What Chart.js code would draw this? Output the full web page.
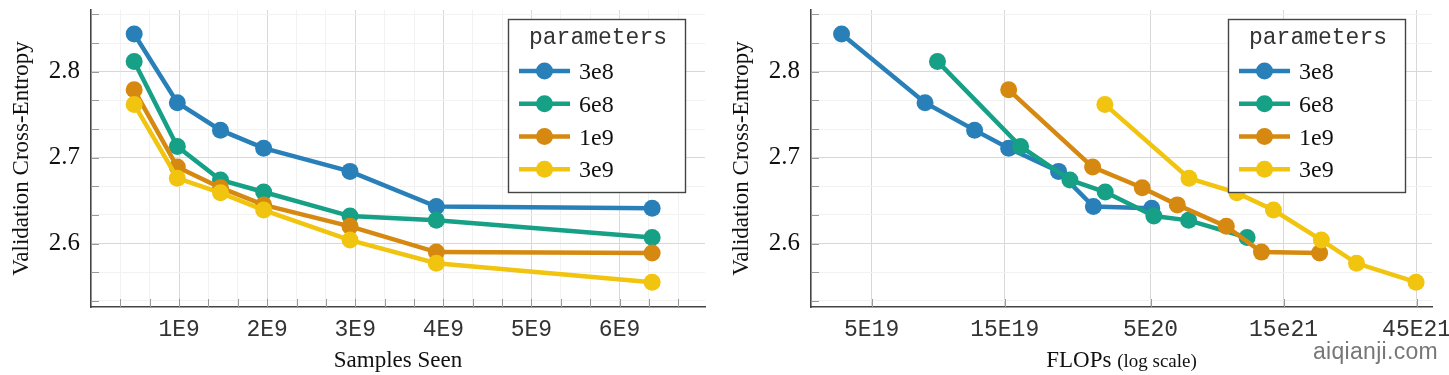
<!DOCTYPE html>
<html><head><meta charset="utf-8">
<script src="https://cdn.jsdelivr.net/npm/chart.js@4/dist/chart.umd.min.js"></script>
<style>
html,body{margin:0;padding:0;background:#fff;}
#wrap{position:relative;width:1449px;height:375px;overflow:hidden;background:#fff;}
#c1{position:absolute;left:0;top:0;}
#c2{position:absolute;left:720px;top:0;}
#wm{position:absolute;left:1313px;top:338px;font:23px 'Liberation Sans',sans-serif;color:#777;white-space:nowrap;letter-spacing:0.3px;}
</style></head>
<body><div id="wrap">
<canvas id="c1" width="720" height="375"></canvas>
<canvas id="c2" width="729" height="375"></canvas>
<div id="wm">aiqianji.com</div>
</div>
<script>
// ---------- data ----------
const seriesLabels = ['3e8', '6e8', '1e9', '3e9'];
const seriesColors = ['#2980b9', '#16a085', '#d68910', '#f1c40f'];

const samplesSeen = [0.49e9, 0.98e9, 1.47e9, 1.96e9, 2.94e9, 3.92e9, 6.37e9];

const loss3e8 = [2.844, 2.764, 2.732, 2.711, 2.684, 2.643, 2.641];
const loss6e8 = [2.812, 2.713, 2.674, 2.660, 2.632, 2.627, 2.607];
const loss1e9 = [2.779, 2.689, 2.665, 2.645, 2.620, 2.590, 2.589];
const loss3e9 = [2.762, 2.676, 2.659, 2.639, 2.604, 2.577, 2.555];

const flops3e8 = [3.90e19, 7.77e19, 1.17e20, 1.55e20, 2.34e20, 3.12e20, 5.05e20];
const flops6e8 = [8.61e19, 1.71e20, 2.57e20, 3.44e20, 5.14e20, 6.85e20, 1.11e21];
const flops1e9 = [1.55e20, 3.10e20, 4.67e20, 6.24e20, 9.35e20, 1.25e21, 2.02e21];
const flops3e9 = [3.43e20, 6.87e20, 1.02e21, 1.38e21, 2.05e21, 2.74e21, 4.48e21];

const yTickValues = [2.6, 2.7, 2.8];
const yTickLabels = ['2.6', '2.7', '2.8'];
const samplesTickValues = [1e9, 2e9, 3e9, 4e9, 5e9, 6e9];
const samplesTickLabels = ['1E9', '2E9', '3E9', '4E9', '5E9', '6E9'];
const flopsTickValues = [5e19, 1.5e20, 5e20, 1.5e21, 4.5e21];
const flopsTickLabels = ['5E19', '15E19', '5E20', '15e21', '45E21'];

const lossSeries = [loss3e8, loss6e8, loss1e9, loss3e9];
const flopsSeries = [flops3e8, flops6e8, flops1e9, flops3e9];

// ---------- helpers ----------
function findIdx(v, vals) {
  for (let i = 0; i < vals.length; i++) {
    if (Math.abs(vals[i] - v) <= 1e-6 * Math.abs(vals[i])) return i;
  }
  return -1;
}
function labelFor(v, vals, labs) { const i = findIdx(v, vals); return i >= 0 ? labs[i] : ''; }

const SERIF = "'Liberation Serif', serif";
const MONO = "'Liberation Mono', monospace";

function buildDatasets(xArrays) {
  return seriesLabels.map((lab, i) => ({
    label: lab,
    data: lossSeries[i].map((y, j) => ({ x: Array.isArray(xArrays[0]) ? xArrays[i][j] : xArrays[j], y: y })),
    borderColor: seriesColors[i],
    backgroundColor: seriesColors[i],
    borderWidth: 4.5,
    pointRadius: 8.5,
    pointHoverRadius: 8.5,
    pointBorderWidth: 0,
    pointBackgroundColor: seriesColors[i],
    tension: 0,
    order: seriesLabels.length - i,
    clip: false
  }));
}

function yScale() {
  return {
    type: 'linear', min: 2.5261, max: 2.8719,
    afterBuildTicks: s => {
      const t = [];
      for (let k = -3; k <= 9; k++) {
        const v = 2.6 + k * 0.1 / 3;
        if (v >= s.min && v <= s.max) t.push({ value: v });
      }
      s.ticks = t;
    },
    ticks: {
      autoSkip: false, padding: 11, color: '#111',
      font: { family: SERIF, size: 25 },
      callback: v => labelFor(v, yTickValues, yTickLabels)
    },
    grid: {
      drawTicks: false, lineWidth: 1,
      color: c => (c.tick && findIdx(c.tick.value, yTickValues) >= 0) ? '#d8d8d8' : '#f2f2f2'
    },
    border: { display: true, color: '#444', width: 1.6 },
    afterFit: s => { s.width = 91; s.paddingTop = 0; s.paddingBottom = 0; }
  };
}

const innerTicks = {
  id: 'innerTicks',
  beforeDatasetsDraw(chart) {
    const { ctx, chartArea: a } = chart;
    const xs = chart.scales.x, ys = chart.scales.y;
    ctx.save();
    ctx.strokeStyle = '#999';
    ctx.lineWidth = 1;
    ys.ticks.forEach(t => {
      const p = Math.round(ys.getPixelForValue(t.value)) + 0.5;
      ctx.beginPath(); ctx.moveTo(a.left, p); ctx.lineTo(a.left + 8, p); ctx.stroke();
    });
    xs.ticks.forEach(t => {
      const p = Math.round(xs.getPixelForValue(t.value)) + 0.5;
      ctx.beginPath(); ctx.moveTo(p, a.bottom); ctx.lineTo(p, a.bottom - 8); ctx.stroke();
    });
    ctx.restore();
  }
};

const legendBox = {
  id: 'legendBox',
  afterDatasetsDraw(chart) {
    const ctx = chart.ctx;
    const bx = 508.5, by = 19.5, bw = 177, bh = 173;
    ctx.save();
    ctx.fillStyle = '#fff';
    ctx.fillRect(bx, by, bw, bh);
    ctx.strokeStyle = '#444';
    ctx.lineWidth = 1.4;
    ctx.strokeRect(bx, by, bw, bh);
    ctx.fillStyle = '#333';
    ctx.font = '23px ' + MONO;
    ctx.textAlign = 'center';
    ctx.textBaseline = 'alphabetic';
    ctx.fillText('parameters', bx + bw / 2 + 1, 43.5);
    chart.data.datasets.forEach((ds, i) => {
      const cy = 71 + i * 32.75;
      ctx.strokeStyle = ds.borderColor;
      ctx.lineWidth = 4.5;
      ctx.beginPath(); ctx.moveTo(519, cy); ctx.lineTo(570, cy); ctx.stroke();
      ctx.fillStyle = ds.borderColor;
      ctx.beginPath(); ctx.arc(544.5, cy, 8.5, 0, Math.PI * 2); ctx.fill();
      ctx.fillStyle = '#111';
      ctx.font = '24px ' + SERIF;
      ctx.textAlign = 'left';
      ctx.fillText(ds.label, 579, cy + 8);
    });
    ctx.restore();
  }
};

const axisTitles = {
  id: 'axisTitles',
  afterDraw(chart, args, opts) {
    const { ctx, chartArea: a } = chart;
    ctx.save();
    ctx.fillStyle = '#111';
    ctx.textBaseline = 'alphabetic';
    ctx.save();
    ctx.translate(28, (a.top + a.bottom) / 2);
    ctx.rotate(-Math.PI / 2);
    ctx.textAlign = 'center';
    ctx.font = '23px ' + SERIF;
    ctx.fillText('Validation Cross-Entropy', 0, 0);
    ctx.restore();
    const parts = opts.parts;
    let total = 0;
    parts.forEach(p => { ctx.font = p.size + 'px ' + SERIF; p.w = ctx.measureText(p.text).width; total += p.w; });
    let x = (a.left + a.right) / 2 - total / 2;
    ctx.textAlign = 'left';
    parts.forEach(p => { ctx.font = p.size + 'px ' + SERIF; ctx.fillText(p.text, x, 367); x += p.w; });
    ctx.restore();
  }
};

function commonOptions(xScale, titleParts, rightPad) {
  return {
    responsive: false,
    animation: false,
    devicePixelRatio: 1,
    layout: { padding: { top: 10, right: rightPad, bottom: 0, left: 0 } },
    plugins: {
      legend: { display: false },
      tooltip: { enabled: false },
      axisTitles: { parts: titleParts }
    },
    scales: { x: xScale, y: yScale() }
  };
}

// ---------- left chart ----------
const leftX = {
  type: 'linear', min: 0, max: 6.97e9,
  afterBuildTicks: s => {
    const t = [];
    for (let k = 1; k <= 21; k++) {
      const v = k * 1e9 / 3;
      if (v <= s.max) t.push({ value: v });
    }
    s.ticks = t;
  },
  ticks: {
    autoSkip: false, maxRotation: 0, padding: 9, color: '#333',
    font: { family: MONO, size: 23 },
    callback: v => labelFor(v, samplesTickValues, samplesTickLabels)
  },
  grid: {
    drawTicks: false, lineWidth: 1,
    color: c => (c.tick && findIdx(c.tick.value, samplesTickValues) >= 0) ? '#d8d8d8' : '#f2f2f2'
  },
  border: { display: true, color: '#444', width: 1.6 },
  afterFit: s => { s.height = 68; s.paddingLeft = 0; s.paddingRight = 0; }
};

new Chart(document.getElementById('c1'), {
  type: 'line',
  data: { datasets: buildDatasets(samplesSeen) },
  options: commonOptions(leftX, [{ text: 'Samples Seen', size: 23 }], 15),
  plugins: [innerTicks, legendBox, axisTitles]
});

// ---------- right chart ----------
const rightX = {
  type: 'logarithmic', min: 3.03e19, max: 5.11e21,
  afterBuildTicks: s => { s.ticks = flopsTickValues.map(v => ({ value: v })); },
  ticks: {
    autoSkip: false, maxRotation: 0, padding: 9, color: '#333',
    font: { family: MONO, size: 23 },
    callback: v => labelFor(v, flopsTickValues, flopsTickLabels)
  },
  grid: { drawTicks: false, lineWidth: 1, color: '#d8d8d8' },
  border: { display: true, color: '#444', width: 1.6 },
  afterFit: s => { s.height = 68; s.paddingLeft = 0; s.paddingRight = 0; }
};

new Chart(document.getElementById('c2'), {
  type: 'line',
  data: { datasets: buildDatasets(flopsSeries) },
  options: commonOptions(rightX, [{ text: 'FLOPs ', size: 23 }, { text: '(log scale)', size: 19 }], 17),
  plugins: [innerTicks, legendBox, axisTitles]
});
</script>
</body></html>
